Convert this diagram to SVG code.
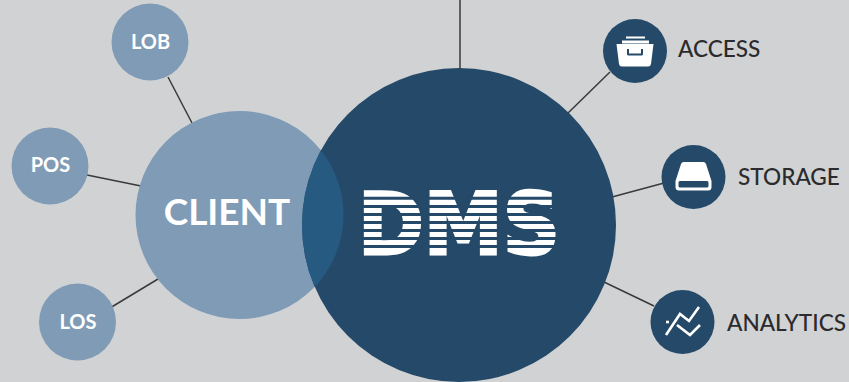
<svg xmlns="http://www.w3.org/2000/svg" width="849" height="382" viewBox="0 0 849 382">
<style>
.dark{fill:#254a69}
.mid{fill:#7f9bb5}
.ln{stroke:#3a3a3c;stroke-width:1.5;fill:none}
.sat{font:700 20px Lato,"Open Sans",sans-serif;fill:#fff;text-anchor:middle}
.lab{font:500 22.600px Lato,"Open Sans",sans-serif;fill:#2b2b2d}
.ico{fill:#fff}
.ics{fill:none;stroke:#fff;stroke-width:2.6}
</style>
<defs><clipPath id="clientClip"><circle cx="239.5" cy="215" r="104"/></clipPath></defs>
<rect width="849" height="382" fill="#d1d2d4"/>
<g id="connectors">
<path class="ln" d="M460 0V70M168 77L192 123M87 175L141 186M110 308L158 279M567 114L610 72M612 197L664 183M604 282L654 306"/>
</g>
<g id="client"><circle class="mid" cx="239.5" cy="215" r="104"/>
<text x="227" y="225" text-anchor="middle" style="font:700 37px Lato,sans-serif;fill:#fff">CLIENT</text></g>
<g id="dms"><circle class="dark" cx="459" cy="225" r="157"/>
<circle cx="459" cy="225" r="157" fill="#265a80" clip-path="url(#clientClip)"/>
<text x="358" y="253.500" textLength="202" lengthAdjust="spacingAndGlyphs" style="font:700 86px 'DejaVu Sans',sans-serif;fill:#fff;stroke:#fff;stroke-width:3">DMS</text>
<path class="dark" d="M355 196.800h210v3h-210zM355 205h210v3h-210zM355 213h210v3h-210zM355 221h210v3h-210zM355 229h210v3h-210zM355 237h210v3h-210zM355 245h210v3h-210z"/></g>
<g id="lob"><circle class="mid" cx="150" cy="42" r="38.500"/><text class="sat" x="150.500" y="49">LOB</text></g>
<g id="pos"><circle class="mid" cx="50" cy="166" r="38.500"/><text class="sat" x="50.500" y="172">POS</text></g>
<g id="los"><circle class="mid" cx="77.500" cy="322" r="38.500"/><text class="sat" x="78" y="329">LOS</text></g>
<g id="access"><circle class="dark" cx="635" cy="51" r="32"/>
<path class="ico" d="M626 36.500h19v2h-19zM622 40.500h27v3h-27z"/>
<path class="ico" fill-rule="evenodd" d="M616.500 44h37l-2.500 20a3 3 0 0 1-3 2.500h-26a3 3 0 0 1-3-2.500zM627 49v5a1.500 1.500 0 0 0 1.500 1.500h13a1.500 1.500 0 0 0 1.500-1.500v-5h-2v4.500h-12v-4.500z"/>
<text class="lab" x="678" y="57">ACCESS</text></g>
<g id="storage"><circle class="dark" cx="693.500" cy="177" r="32"/>
<path class="ico" fill-rule="evenodd" d="M684 162h19a3 3 0 0 1 3 2l5.500 17v6a3.500 3.500 0 0 1-3.500 3.500h-29a3.500 3.500 0 0 1-3.500-3.500v-6l5.500-17a3 3 0 0 1 3-2zM680 181a1.500 1.500 0 0 0-1.500 1.500v3.500a1.500 1.500 0 0 0 1.500 1.500h27a1.500 1.500 0 0 0 1.500-1.500v-3.500a1.500 1.500 0 0 0-1.500-1.500z"/>
<text class="lab" x="738" y="185">STORAGE</text></g>
<g id="analytics"><circle class="dark" cx="682.500" cy="322" r="32"/>
<path class="ics" d="M666 335L680 314L689 321L699 307M677 325L690 335L700 325"/>
<path class="ics" d="M666 322h3"/>
<text class="lab" x="727" y="331">ANALYTICS</text></g>
</svg>
